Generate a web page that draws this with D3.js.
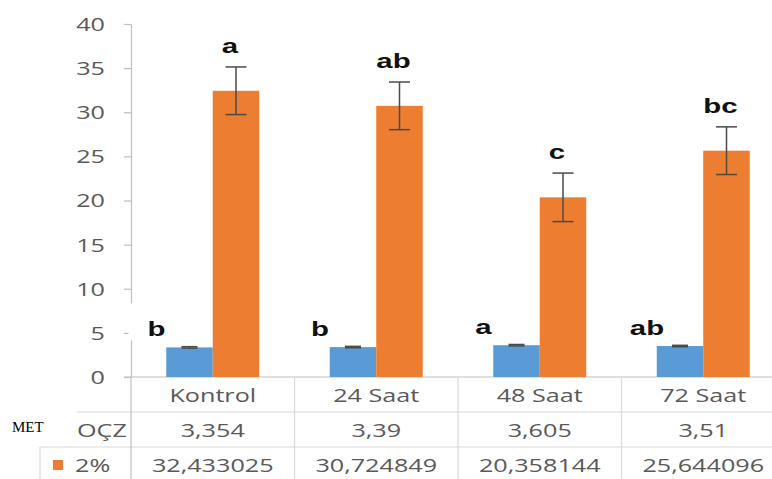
<!DOCTYPE html>
<html><head><meta charset="utf-8">
<script src="https://cdn.jsdelivr.net/npm/d3@7"></script>
<style>body{margin:0;background:#fff}svg{display:block}</style>
</head><body>
<svg id="c" width="772" height="479"></svg>
<script>
const categories = ["Kontrol", "24 Saat", "48 Saat", "72 Saat"];
const seriesNames = ["OÇZ", "2%"];
const ocz = [3.354, 3.39, 3.605, 3.51];
const pct2 = [32.433025, 30.724849, 20.358144, 25.644096];
const oczErr = [0.08, 0.08, 0.08, 0.08];
const pct2Err = [2.7, 2.7, 2.75, 2.7];
const oczLabels = ["3,354", "3,39", "3,605", "3,51"];
const pct2Labels = ["32,433025", "30,724849", "20,358144", "25,644096"];
const oczLetters = ["b", "b", "a", "ab"];
const pct2Letters = ["a", "ab", "c", "bc"];
const yTicks = [0, 5, 10, 15, 20, 25, 30, 35, 40];

const colors = {"OÇZ": "#5b9bd5", "2%": "#ed7d31"};
const SX = 1.4;
const textCol = "#595959";
const svg = d3.select("#c");

const x = d3.scaleBand().domain(categories).range([131, 785]).paddingInner(0).paddingOuter(0);
const xs = d3.scaleBand().domain(seriesNames).range([0, x.bandwidth()]).paddingInner(0).paddingOuter(0.758);
const y = d3.scaleLinear().domain([0, 40]).range([377, 24]);

const series = [
  {name: "OÇZ", vals: ocz, err: oczErr, cap: 16},
  {name: "2%", vals: pct2, err: pct2Err, cap: 21}
];

// Y axis
const yAxis = d3.axisLeft(y).tickValues(yTicks).tickSize(7).tickSizeOuter(0).tickFormat(d3.format("d"));
const ga = svg.append("g").attr("transform", "translate(131,0)").call(yAxis);
ga.select(".domain").attr("stroke", "#bfbfbf").attr("stroke-width", 1.2);
ga.selectAll(".tick line").attr("stroke", "#bfbfbf").attr("stroke-width", 1.2);
ga.selectAll(".tick text").attr("x", 0).attr("dy", "0.36em")
  .attr("transform", `translate(-26,0) scale(${SX},1)`)
  .attr("fill", textCol).style("font-family", "'Open Sans', sans-serif").style("font-size", "18px");

// Data table grid
const grid = svg.append("g").attr("stroke", "#d9d9d9").attr("stroke-width", 1.2);
const right = x.range()[1];
grid.append("line").attr("x1", 124).attr("x2", right).attr("y1", 377).attr("y2", 377).attr("stroke", "#bfbfbf");
grid.append("line").attr("x1", 77).attr("x2", right).attr("y1", 412).attr("y2", 412);
grid.append("line").attr("x1", 40).attr("x2", right).attr("y1", 447).attr("y2", 447);
grid.append("line").attr("x1", 40).attr("x2", right).attr("y1", 482).attr("y2", 482);
grid.append("line").attr("x1", 40).attr("x2", 40).attr("y1", 447).attr("y2", 482);
grid.append("line").attr("x1", 131).attr("x2", 131).attr("y1", 377).attr("y2", 482).attr("stroke", "#bfbfbf");
categories.slice(1).forEach(c => {
  grid.append("line").attr("x1", x(c)).attr("x2", x(c)).attr("y1", 377).attr("y2", 482);
});

// Bars
series.forEach(s => {
  svg.append("g").selectAll("rect").data(categories).join("rect")
    .attr("x", c => x(c) + xs(s.name))
    .attr("width", xs.bandwidth())
    .attr("y", (c, i) => y(s.vals[i]))
    .attr("height", (c, i) => y(0) - y(s.vals[i]))
    .attr("fill", colors[s.name]);
});

// Error bars
series.forEach(s => {
  const g = svg.append("g").attr("stroke", "#4a4a4a").attr("stroke-width", 1.5);
  categories.forEach((c, i) => {
    const cx = x(c) + xs(s.name) + xs.bandwidth() / 2;
    const top = y(s.vals[i] + s.err[i]), bot = y(s.vals[i] - s.err[i]);
    g.append("line").attr("x1", cx).attr("x2", cx).attr("y1", top).attr("y2", bot);
    g.append("line").attr("x1", cx - s.cap / 2).attr("x2", cx + s.cap / 2).attr("y1", top).attr("y2", top);
    g.append("line").attr("x1", cx - s.cap / 2).attr("x2", cx + s.cap / 2).attr("y1", bot).attr("y2", bot);
  });
});

// Significance letters
const letterStyle = sel => sel.attr("text-anchor", "middle").attr("fill", "#111")
  .style("font-family", "'Liberation Sans', Arial, sans-serif").style("font-weight", "bold").style("font-size", "21px");
categories.forEach((c, i) => {
  const bx = x(c) + xs("OÇZ") + xs.bandwidth() / 2 - 33;
  const by = y(ocz[i]) - 11;
  svg.append("rect").attr("x", bx - 28).attr("y", by - 33).attr("width", 56).attr("height", 37).attr("fill", "#fff");
  svg.append("text").attr("transform", `translate(${bx},${by}) scale(${SX},1)`).text(oczLetters[i]).call(letterStyle);
  const ox = x(c) + xs("2%") + xs.bandwidth() / 2 - 6;
  const oy = y(pct2[i] + pct2Err[i]) - 14;
  svg.append("text").attr("transform", `translate(${ox},${oy}) scale(${SX},1)`).text(pct2Letters[i]).call(letterStyle);
});

// Table text
const tableText = (tx, ty, str, anchor) => svg.append("text")
  .attr("transform", `translate(${tx},${ty}) scale(${SX},1)`)
  .attr("text-anchor", anchor || "middle").attr("fill", textCol)
  .style("font-family", "'Open Sans', sans-serif").style("font-size", "18px").text(str);
categories.forEach((c, i) => {
  const cx = x(c) + x.bandwidth() / 2;
  tableText(cx, 402, c);
  tableText(cx, 437, oczLabels[i]);
  tableText(cx, 472, pct2Labels[i]);
});

// Legend column
tableText(77, 437, seriesNames[0], "start");
svg.append("rect").attr("x", 53).attr("y", 460).attr("width", 10).attr("height", 10).attr("fill", colors["2%"]);
tableText(75, 472, seriesNames[1], "start");
svg.append("text").attr("x", 12).attr("y", 432).attr("fill", "#000")
  .style("font-family", "'Liberation Serif', 'Times New Roman', serif").style("font-size", "15px").text("MET");
</script>
</body></html>
